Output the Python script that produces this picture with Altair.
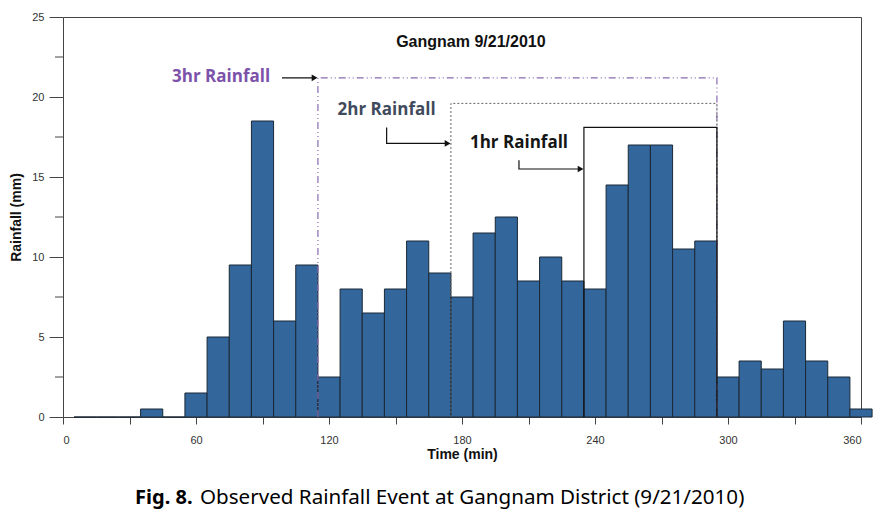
import altair as alt
import pandas as pd

# ---- data ----
times = [10, 20, 30, 40, 50, 60, 70, 80, 90, 100, 110, 120, 130, 140, 150, 160, 170, 180,
         190, 200, 210, 220, 230, 240, 250, 260, 270, 280, 290, 300, 310, 320, 330, 340, 350, 360]
rain = [0, 0, 0, 0.5, 0, 1.5, 5, 9.5, 18.5, 6, 9.5, 2.5, 8, 6.5, 8, 11, 9, 7.5,
        11.5, 12.5, 8.5, 10, 8.5, 8, 14.5, 17, 17, 10.5, 11, 2.5, 3.5, 3, 6, 3.5, 2.5, 0.5]

x_ticks = [0, 30, 60, 90, 120, 150, 180, 210, 240, 270, 300, 330, 360]
y_major = [0, 5, 10, 15, 20, 25]
y_minor = [2.5, 7.5, 12.5, 17.5, 22.5]

# windows: (start, end, top)
win3 = [115, 295, 21.2]
win2 = [175, 295, 19.6]
win1 = [235, 295, 18.1]

bars = pd.DataFrame({"t0": [t - 5 for t in times], "t1": [t + 5 for t in times], "rain": rain})

X = alt.X("t0:Q", scale=alt.Scale(domain=[0, 360], nice=False, zero=False),
          axis=alt.Axis(values=x_ticks, labelExpr="datum.value % 60 == 0 ? datum.label : ''",
                        title="Time (min)", domain=False, tickSize=7, tickColor="#444",
                        labelPadding=10, titlePadding=2, grid=False))
Y = alt.Y("rain:Q", scale=alt.Scale(domain=[0, 25], nice=False),
          axis=alt.Axis(values=y_major, title="Rainfall (mm)", domain=False, tickSize=14,
                        tickColor="#444", labelPadding=5, titlePadding=8, grid=False))

bar_layer = alt.Chart(bars).mark_bar(fill="#33669b", stroke="#1b2836", strokeWidth=1, clip=False).encode(
    x=X, x2="t1:Q", y=Y, y2=alt.datum(0))

minor = alt.Chart(pd.DataFrame({"v": y_minor})).mark_rule(color="#444").encode(
    y="v:Q", x=alt.value(-8), x2=alt.value(0))


def box(win, color, dash, width=1.2):
    s, e, top = win
    df = pd.DataFrame({"x": [s, s, e, e], "y": [0, top, top, 0], "o": [0, 1, 2, 3]})
    kw = dict(color=color, strokeWidth=width)
    if dash:
        kw["strokeDash"] = dash
    return alt.Chart(df).mark_line(**kw).encode(x="x:Q", y="y:Q", order="o:Q")


box3 = box(win3, "#8a6bb0", [7, 3, 1, 3, 1, 3])
box2 = box(win2, "#666666", [2, 2], 1)
box1 = box(win1, "#111111", None, 1.2)

# arrows: polyline points, last one gets the arrow head
arrow_paths = [
    [(98.8, 21.2), (113.5, 21.2)],
    [(146, 18.1), (146, 17.1), (173.5, 17.1)],
    [(205.7, 16.05), (205.7, 15.5), (233.5, 15.5)],
]
arr_rows = []
head_rows = []
for i, path in enumerate(arrow_paths):
    for j, (px, py) in enumerate(path):
        arr_rows.append({"a": i, "o": j, "x": px, "y": py})
    head_rows.append({"x": path[-1][0], "y": path[-1][1]})
arr = alt.Chart(pd.DataFrame(arr_rows)).mark_line(color="#111", strokeWidth=1.2).encode(
    x="x:Q", y="y:Q", detail="a:N", order="o:Q")
heads = alt.Chart(pd.DataFrame(head_rows)).mark_point(
    shape="triangle-right", filled=True, color="#111", size=45, opacity=1).encode(x="x:Q", y="y:Q")

labels = pd.DataFrame({
    "x": [71.3, 146, 205.7],
    "y": [21.25, 19.2, 17.1],
    "txt": ["3hr Rainfall", "2hr Rainfall", "1hr Rainfall"],
    "c": ["#7c52aa", "#3f4b5c", "#151515"],
})
lab = alt.Chart(labels).mark_text(font="Open Sans", fontSize=17, fontWeight="bold").encode(
    x="x:Q", y="y:Q", text="txt:N", color=alt.Color("c:N", scale=None))

title_df = pd.DataFrame({"x": [184], "y": [23.45], "txt": ["Gangnam 9/21/2010"]})
title = alt.Chart(title_df).mark_text(font="Liberation Sans", fontSize=16, fontWeight="bold",
                                      color="#111").encode(x="x:Q", y="y:Q", text="txt:N")

cap_df = pd.DataFrame({"x": [32.5], "y": [-5.05], "txt": ["Fig. 8."]})
cap_df2 = pd.DataFrame({"x": [61.8], "y": [-5.05], "txt": ["Observed Rainfall Event at Gangnam District (9/21/2010)"]})
cap1 = alt.Chart(cap_df).mark_text(font="Noto Sans", fontSize=20, fontWeight="bold", align="left",
                                   color="#000", clip=False).encode(x="x:Q", y="y:Q", text="txt:N")
cap2 = alt.Chart(cap_df2).mark_text(font="Noto Sans", fontSize=20.6, align="left",
                                    color="#000", clip=False).encode(x="x:Q", y="y:Q", text="txt:N")

chart = alt.layer(bar_layer, minor, box3, box2, box1, arr, heads, lab, title, cap1, cap2).properties(
    width=798, height=400,
    autosize=alt.AutoSizeParams(type="none"),
    padding={"left": 55, "top": 9, "right": 20, "bottom": 100},
).configure_view(stroke="#444", strokeWidth=1).configure_axis(
    labelFont="Liberation Sans", labelFontSize=11, labelColor="#333",
    titleFont="Liberation Sans", titleFontSize=14, titleFontWeight="bold", titleColor="#111",
)

chart.save("out.html", embed_options={"renderer": "svg", "actions": False})
